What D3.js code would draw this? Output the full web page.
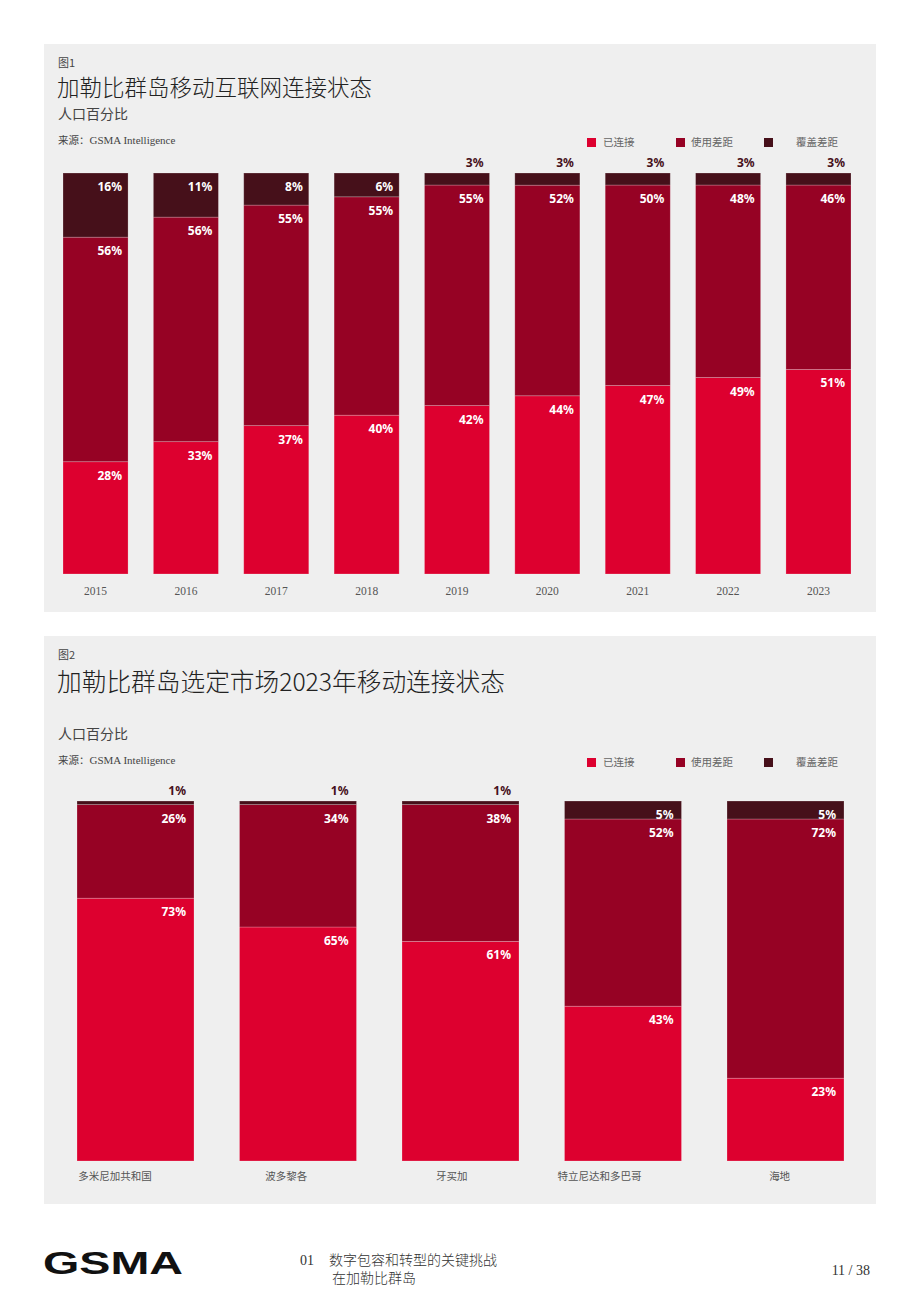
<!DOCTYPE html>
<html>
<head>
<meta charset="utf-8">
<script src="https://cdn.jsdelivr.net/npm/d3@7"></script>
<style>
  body { margin: 0; background: #fff; }
  svg { display: block; }
  .cjk { font-family: "Noto Sans CJK SC", "Noto Sans", sans-serif; }
  .serif { font-family: "Liberation Serif", "Noto Sans CJK SC", serif; }
  .lbl { font-family: "Noto Sans", "Open Sans", sans-serif; font-weight: bold; font-size: 12px; }
</style>
</head>
<body>
<div id="page"></div>
<script>
// Figure 1 data: Caribbean mobile internet connectivity, % of population
var years = ["2015", "2016", "2017", "2018", "2019", "2020", "2021", "2022", "2023"];
var connected1 = [28, 33, 37, 40, 42, 44, 47, 49, 51];
var usageGap1 = [56, 56, 55, 55, 55, 52, 50, 48, 46];
var coverageGap1 = [16, 11, 8, 6, 3, 3, 3, 3, 3];

// Figure 2 data: selected markets, 2023
var markets = ["多米尼加共和国", "波多黎各", "牙买加", "特立尼达和多巴哥", "海地"];
var connected2 = [73, 65, 61, 43, 23];
var usageGap2 = [26, 34, 38, 52, 72];
var coverageGap2 = [1, 1, 1, 5, 5];

var seriesKeys = ["connected", "usage", "coverage"];
var seriesNames = ["已连接", "使用差距", "覆盖差距"];
var color = d3.scaleOrdinal().domain(seriesKeys).range(["#dd002f", "#960224", "#46101a"]);

var width = 920, height = 1302;

var svg = d3.select("#page").append("svg")
    .attr("width", width)
    .attr("height", height);

function drawPanel(opt) {
  var g = svg.append("g");

  g.append("rect")
      .attr("x", 44).attr("y", opt.top)
      .attr("width", 832).attr("height", 568)
      .attr("fill", "#efefef");

  g.append("text").attr("class", "cjk")
      .attr("x", 58).attr("y", opt.top + 23)
      .attr("font-size", 11).attr("fill", "#444")
      .text(opt.fig);

  g.append("text").attr("class", "cjk")
      .attr("x", 57).attr("y", opt.top + opt.titleY)
      .attr("font-size", opt.titleSize).attr("font-weight", 300).attr("fill", "#222")
      .text(opt.title);

  g.append("text").attr("class", "cjk")
      .attr("x", 58).attr("y", opt.top + opt.subY)
      .attr("font-size", 14).attr("fill", "#444")
      .text("人口百分比");

  var src = g.append("text")
      .attr("x", 58).attr("y", opt.top + opt.srcY)
      .attr("font-size", 10.5).attr("fill", "#444");
  src.append("tspan").attr("class", "cjk").text("来源：");
  src.append("tspan").attr("class", "serif").attr("font-size", 11).text("GSMA Intelligence");

  // legend
  var legendX = [587, 676, 764];
  var textX = [603, 691, 796];
  seriesKeys.forEach(function(k, i) {
    g.append("rect")
        .attr("x", legendX[i]).attr("y", opt.top + opt.srcY - 6)
        .attr("width", 9).attr("height", 9)
        .attr("fill", color(k));
    g.append("text").attr("class", "cjk")
        .attr("x", textX[i]).attr("y", opt.top + opt.srcY + 2)
        .attr("font-size", 10.5).attr("fill", "#666")
        .text(seriesNames[i]);
  });

  var rows = opt.cats.map(function(c, i) {
    return { cat: c, connected: opt.a[i], usage: opt.b[i], coverage: opt.c[i] };
  });

  var stack = d3.stack().keys(seriesKeys).offset(d3.stackOffsetExpand);
  var layers = stack(rows);

  var x = d3.scaleBand()
      .domain(opt.cats)
      .range(opt.xRange)
      .paddingInner(0.28)
      .paddingOuter(0);

  var y = d3.scaleLinear()
      .domain([0, 1])
      .range(opt.yRange);

  var layer = g.selectAll("g.layer")
      .data(layers)
      .enter().append("g")
      .attr("class", "layer")
      .attr("fill", function(d) { return color(d.key); });

  layer.selectAll("rect")
      .data(function(d) { return d; })
      .enter().append("rect")
      .attr("x", function(d) { return x(d.data.cat); })
      .attr("y", function(d) { return y(d[1]); })
      .attr("width", x.bandwidth())
      .attr("height", function(d) { return y(d[0]) - y(d[1]); })
      .attr("stroke", "rgba(255,255,255,0.28)")
      .attr("stroke-width", 0.8);

  // value labels
  layers.forEach(function(l) {
    l.forEach(function(d) {
      var v = d.data[l.key];
      var h = y(d[0]) - y(d[1]);
      var inside = h > 15;
      g.append("text").attr("class", "lbl")
          .attr("x", x(d.data.cat) + x.bandwidth() - opt.padR)
          .attr("y", inside ? y(d[1]) + 18 : y(d[1]) - 6)
          .attr("text-anchor", "end")
          .attr("fill", inside ? "#fff" : "#46101a")
          .text(v + "%");
    });
  });

  // category axis
  var axis = g.append("g")
      .attr("transform", "translate(0," + (opt.yRange[0] + opt.axisDy) + ")")
      .call(d3.axisBottom(x).tickSize(0).tickPadding(0));
  axis.select(".domain").remove();
  axis.selectAll("text")
      .attr("class", opt.axisClass)
      .attr("font-size", opt.axisSize)
      .attr("fill", "#555");
  if (opt.shiftLabels) {
    // market names sit a little left of the bar centre in the original
    axis.selectAll("text").attr("dx", function() {
      return -0.28 * this.getComputedTextLength();
    });
  }
}

drawPanel({
  top: 44, fig: "图1", title: "加勒比群岛移动互联网连接状态", titleSize: 22.5,
  titleY: 52, subY: 75, srcY: 100,
  cats: years, a: connected1, b: usageGap1, c: coverageGap1,
  xRange: [63, 851], yRange: [574, 173], padR: 6, axisDy: 13, axisSize: 11.5, axisClass: "serif"
});

drawPanel({
  top: 636, fig: "图2", title: "加勒比群岛选定市场2023年移动连接状态", titleSize: 24.7,
  titleY: 55, subY: 103, srcY: 128,
  cats: markets, a: connected2, b: usageGap2, c: coverageGap2,
  xRange: [77, 844], yRange: [1161, 801], padR: 8, axisDy: 12, axisSize: 10.5, axisClass: "cjk",
  shiftLabels: true
});

// footer
svg.append("text")
    .attr("x", 43).attr("y", 1274)
    .attr("font-family", "Liberation Sans, Arial, sans-serif")
    .attr("font-weight", "bold")
    .attr("font-size", 31)
    .attr("textLength", 140)
    .attr("lengthAdjust", "spacingAndGlyphs")
    .attr("fill", "#111")
    .text("GSMA");

svg.append("text").attr("class", "serif")
    .attr("x", 300).attr("y", 1265)
    .attr("font-size", 14).attr("fill", "#333")
    .text("01");
svg.append("text").attr("class", "cjk")
    .attr("x", 329).attr("y", 1265)
    .attr("font-size", 14).attr("font-weight", 300).attr("fill", "#333")
    .text("数字包容和转型的关键挑战");
svg.append("text").attr("class", "cjk")
    .attr("x", 332).attr("y", 1283)
    .attr("font-size", 14).attr("font-weight", 300).attr("fill", "#333")
    .text("在加勒比群岛");
svg.append("text").attr("class", "serif")
    .attr("x", 870).attr("y", 1275)
    .attr("text-anchor", "end")
    .attr("font-size", 14).attr("fill", "#333")
    .text("11 / 38");
</script>
</body>
</html>
